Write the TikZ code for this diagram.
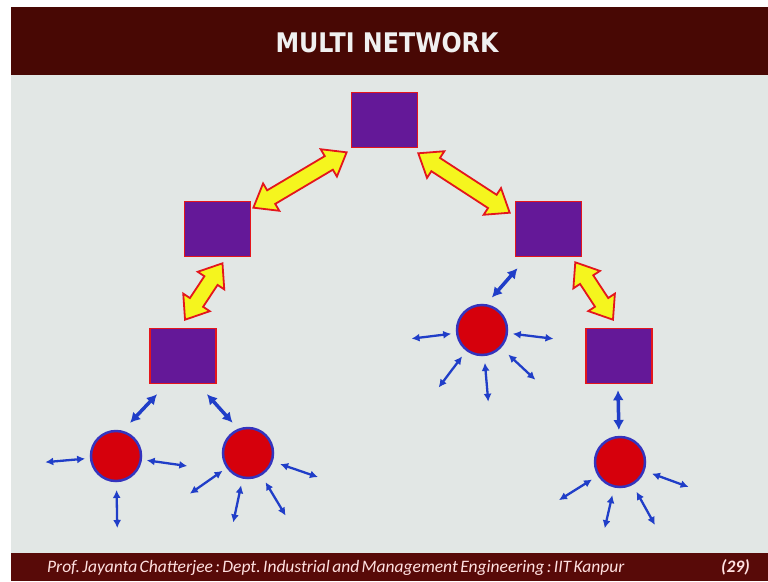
\documentclass[tikz,border=0pt]{standalone}
\usepackage{fontspec}
\setmainfont{DejaVu Sans}
\newfontfamily\titlefont[FakeStretch=0.88]{DejaVu Sans}
\newfontfamily\footfont[WordSpace=0.6]{Carlito}
\usepackage{tikz}
\usetikzlibrary{arrows.meta, calc, shapes.arrows}
\definecolor{slide-bg}{RGB}{226,231,229}
\definecolor{slide-head}{RGB}{72,8,4}
\definecolor{slide-foot}{RGB}{88,10,8}
\definecolor{hub-fill}{RGB}{100,24,152}
\definecolor{edge-red}{RGB}{228,22,28}
\definecolor{site-fill}{RGB}{214,0,12}
\definecolor{site-blue}{RGB}{52,52,190}
\definecolor{link-yellow}{RGB}{245,245,30}
\definecolor{spoke-blue}{RGB}{32,62,200}
\frenchspacing

\begin{document}
\begin{tikzpicture}[
    x=1pt, y=-1pt,
    hub/.style={rectangle, draw=edge-red, fill=hub-fill, line width=1.5pt,
                minimum width=66pt, minimum height=55pt, inner sep=0pt},
    site/.style={circle, draw=site-blue, fill=site-fill, line width=2.5pt,
                 minimum size=50pt, inner sep=0pt},
    fatlink/.style={double arrow, draw=edge-red, fill=link-yellow,
                    line width=1.8pt, inner xsep=0pt, inner ysep=7pt,
                    minimum width=31pt, double arrow head extend=8pt,
                    double arrow tip angle=75},
    link/.style={draw=spoke-blue, line width=3.5pt,
                 {Latex[length=10pt,width=11pt]}-{Latex[length=10pt,width=11pt]}},
    spoke/.style={draw=spoke-blue, line width=2.3pt,
                  {Latex[length=8pt,width=8pt]}-{Latex[length=8pt,width=8pt]}},
  ]
    % slide frame
    \fill[white] (0,0) rectangle (768,581);
    \fill[slide-bg] (11,75) rectangle (768,553);
    \fill[slide-head] (11,7) rectangle (768,75);
    \fill[slide-foot] (11,553) rectangle (768,581);
    \node[anchor=base, font=\titlefont\bfseries\fontsize{27}{30}\selectfont,
          text=white!88!gray] (title) at (387,52) {MULTI NETWORK};
    \node[anchor=base west, font=\footfont\itshape\fontsize{17.5}{19}\selectfont,
          text=white!88!red, inner sep=0pt] (credit) at (47,572)
      {Prof. Jayanta Chatterjee : Dept. Industrial and Management Engineering : IIT Kanpur};
    \node[anchor=base east, font=\footfont\itshape\bfseries\fontsize{17.5}{19}\selectfont,
          text=white!88!red, inner sep=0pt] (page) at (750,572) {(29)};

    % hubs
    \node[hub] (top) at (384.5,120) {};
    \node[hub] (l2) at (217.5,229) {};
    \node[hub] (r2) at (548.5,229) {};
    \node[hub] (l3) at (183,356) {};
    \node[hub] (r3) at (619,356) {};

    % sites
    \node[site] (A) at (116,456) {};
    \node[site] (B) at (248,453) {};
    \node[site] (C) at (482,330) {};
    \node[site] (D) at (620,462) {};

    % backbone links
    \coordinate (f1a) at ([shift={(2,7)}]l2.north east);
    \coordinate (f1b) at ([shift={(-4,4)}]top.south west);
    \coordinate (f2a) at ([shift={(0,5)}]top.south east);
    \coordinate (f2b) at ([shift={(-5,12)}]r2.north west);
    \coordinate (f3a) at ([shift={(5,6)}]l2.south);
    \coordinate (f3b) at ([shift={(2,-8)}]l3.north);
    \coordinate (f4a) at ([shift={(-7,5)}]r2.south east);
    \coordinate (f4b) at ([shift={(-6,-8)}]r3.north);
    \path let \p1=($(f1b)-(f1a)$), \n1={atan2(\y1,\x1)}, \n2={veclen(\x1,\y1)} in
      node[fatlink, rotate=\n1, minimum height=\n2] (fat1) at ($(f1a)!0.5!(f1b)$) {};
    \path let \p1=($(f2b)-(f2a)$), \n1={atan2(\y1,\x1)}, \n2={veclen(\x1,\y1)} in
      node[fatlink, rotate=\n1, minimum height=\n2] (fat2) at ($(f2a)!0.5!(f2b)$) {};
    \path let \p1=($(f3b)-(f3a)$), \n1={atan2(\y1,\x1)}, \n2={veclen(\x1,\y1)} in
      node[fatlink, rotate=\n1, minimum height=\n2] (fat3) at ($(f3a)!0.5!(f3b)$) {};
    \path let \p1=($(f4b)-(f4a)$), \n1={atan2(\y1,\x1)}, \n2={veclen(\x1,\y1)} in
      node[fatlink, rotate=\n1, minimum height=\n2] (fat4) at ($(f4a)!0.5!(f4b)$) {};

    % hub to site links
    \draw[link] ([shift={(-26,10)}]l3.south) -- ($(A)!36pt!(A.67)$);
    \draw[link] ([shift={(24,10)}]l3.south) -- ($(B)!34pt!(B.117)$);
    \draw[link] ([shift={(-31,11)}]r2.south) -- ($(C)!34pt!(C.73)$);
    \draw[link] ([shift={(-1,6)}]r3.south) -- ($(D)!32pt!(D.92)$);

    % spokes
    \draw[spoke] ($(A)!31pt!(A.185)$) -- ($(A)!71pt!(A.185)$);
    \draw[spoke] ($(A)!31pt!(A.352)$) -- ($(A)!72pt!(A.352)$);
    \draw[spoke] ($(A)!34pt!(A.271)$) -- ($(A)!72pt!(A.271)$);
    \draw[spoke] ($(B)!31pt!(B.215)$) -- ($(B)!71pt!(B.215)$);
    \draw[spoke] ($(B)!33pt!(B.258)$) -- ($(B)!71pt!(B.258)$);
    \draw[spoke] ($(B)!34pt!(B.301)$) -- ($(B)!73pt!(B.301)$);
    \draw[spoke] ($(B)!34pt!(B.341)$) -- ($(B)!74pt!(B.341)$);
    \draw[spoke] ($(C)!31pt!(C.187)$) -- ($(C)!71pt!(C.187)$);
    \draw[spoke] ($(C)!31pt!(C.353)$) -- ($(C)!72pt!(C.353)$);
    \draw[spoke] ($(C)!33pt!(C.233)$) -- ($(C)!72pt!(C.233)$);
    \draw[spoke] ($(C)!33pt!(C.275)$) -- ($(C)!72pt!(C.275)$);
    \draw[spoke] ($(C)!36pt!(C.317)$) -- ($(C)!73pt!(C.317)$);
    \draw[spoke] ($(D)!33pt!(D.212)$) -- ($(D)!72pt!(D.212)$);
    \draw[spoke] ($(D)!34pt!(D.257)$) -- ($(D)!68pt!(D.257)$);
    \draw[spoke] ($(D)!34pt!(D.299)$) -- ($(D)!72pt!(D.299)$);
    \draw[spoke] ($(D)!34pt!(D.340)$) -- ($(D)!73pt!(D.340)$);
  \end{tikzpicture}
\end{document}
